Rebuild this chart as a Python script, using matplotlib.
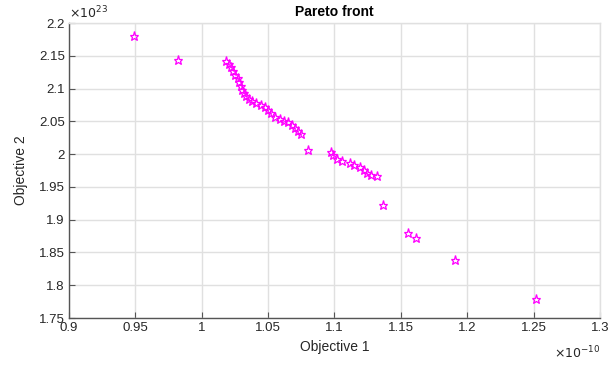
import matplotlib
matplotlib.use('Agg')
import matplotlib.pyplot as plt
from matplotlib.ticker import FuncFormatter

plt.rcParams['font.family'] = ['Liberation Sans', 'DejaVu Sans']

# values in units of 1e-10 (objective 1) and 1e23 (objective 2)
obj1 = [0.949, 0.982, 1.018, 1.0205, 1.022, 1.0235, 1.025, 1.027, 1.028, 1.0295,
        1.030, 1.032, 1.033, 1.0355, 1.038, 1.041, 1.0445, 1.0475, 1.050, 1.052,
        1.055, 1.059, 1.062, 1.065, 1.068, 1.070, 1.0725, 1.0745, 1.080, 1.0975,
        1.099, 1.102, 1.1055, 1.1115, 1.1145, 1.119, 1.122, 1.1245, 1.1275, 1.132,
        1.1365, 1.1554, 1.1614, 1.1907, 1.2518]
obj2 = [2.180, 2.144, 2.142, 2.1375, 2.133, 2.127, 2.121, 2.116, 2.110, 2.104,
        2.098, 2.093, 2.089, 2.084, 2.081, 2.078, 2.075, 2.072, 2.067, 2.063,
        2.057, 2.054, 2.050, 2.049, 2.044, 2.040, 2.035, 2.031, 2.0065, 2.003,
        1.999, 1.993, 1.990, 1.9865, 1.9835, 1.980, 1.976, 1.971, 1.968, 1.9665,
        1.9225, 1.880, 1.872, 1.8386, 1.779]

xticks = [0.9, 0.95, 1, 1.05, 1.1, 1.15, 1.2, 1.25, 1.3]
yticks = [1.75, 1.8, 1.85, 1.9, 1.95, 2, 2.05, 2.1, 2.15, 2.2]

fig = plt.figure(figsize=(6.1, 3.66), dpi=100)
fig.patch.set_facecolor('white')
ax = fig.add_axes([0.113, 0.131, 0.8706, 0.806])

ax.plot(obj1, obj2, linestyle='none', marker='*', markersize=6.5,
        markerfacecolor='none', markeredgecolor='#ff00ff', markeredgewidth=0.9)

ax.set_xlim(0.9, 1.3)
ax.set_ylim(1.75, 2.2)
ax.set_xticks(xticks)
ax.set_yticks(yticks)
fmt = FuncFormatter(lambda v, p: '%g' % v)
ax.xaxis.set_major_formatter(fmt)
ax.yaxis.set_major_formatter(fmt)

ax.grid(True, color='#e0e0e0', linewidth=1.0)
ax.set_axisbelow(True)
for s in ('left', 'bottom'):
    ax.spines[s].set_color('#555555')
    ax.spines[s].set_linewidth(1.0)
for s in ('top', 'right'):
    ax.spines[s].set_color('#e0e0e0')
    ax.spines[s].set_linewidth(1.0)
ax.tick_params(direction='in', length=4, color='#555555', labelsize=9.5,
               labelcolor='#262626', pad=3)

ax.set_title('Pareto front', fontsize=10, fontweight='bold', pad=5)
ax.set_xlabel('Objective 1', fontsize=10, color='#262626', labelpad=4)
ax.set_ylabel('Objective 2', fontsize=10, color='#262626', labelpad=8)

# exponent labels like MATLAB
ax.text(0.0, 1.005, r'$\times10^{23}$', transform=ax.transAxes, fontsize=9,
        color='#262626', ha='left', va='bottom')
ax.text(1.0, -0.09, r'$\times10^{-10}$', transform=ax.transAxes, fontsize=9,
        color='#262626', ha='right', va='top')

fig.savefig('out.png', dpi=100)
plt.close()
